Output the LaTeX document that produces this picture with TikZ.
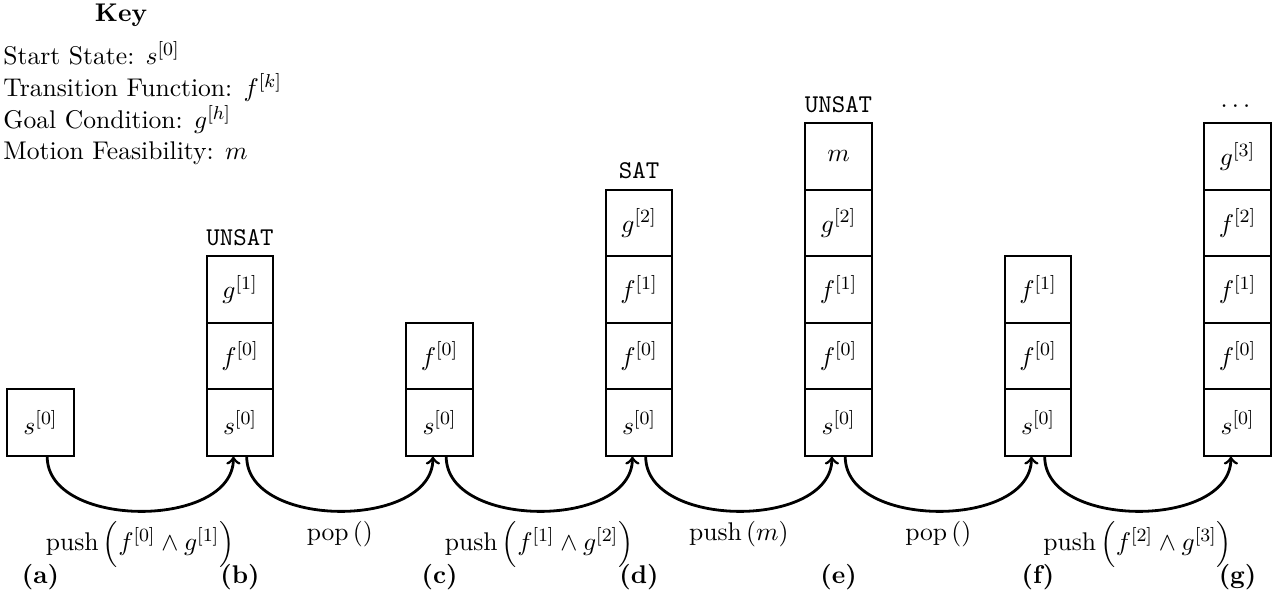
\documentclass[tikz,border=0pt,11pt]{standalone}
\usepackage{amsmath}
\begin{document}
\begin{tikzpicture}[
  cell/.style={draw, thick, minimum width=1cm, minimum height=1cm, inner sep=0pt, anchor=center},
  status/.style={anchor=base, inner sep=0pt, font=\ttfamily},
  keyline/.style={anchor=base west, inner sep=0pt},
  steplabel/.style={anchor=base, inner sep=0pt, font=\bfseries},
  arr/.style={->, very thick},
]
\useasboundingbox (0,0) rectangle (19.158,-9.038);

% Key
\node[anchor=base, inner sep=0pt, font=\bfseries] (keytitle) at (1.82,-0.326) {Key};
\node[keyline] (k1) at (0.045,-0.977) {Start State: $s^{[0]}$};
\node[keyline] (k2) at (0.045,-1.454) {Transition Function: $f^{[k]}$};
\node[keyline] (k3) at (0.045,-1.930) {Goal Condition: $g^{[h]}$};
\node[keyline] (k4) at (0.045,-2.406) {Motion Feasibility: $m$};

% (a)
\node[cell] (a0) at (0.61,-6.353) {$s^{[0]}$};
% (b)
\node[cell] (b0) at (3.61,-6.353) {$s^{[0]}$};
\node[cell] (b1) at (3.61,-5.353) {$f^{[0]}$};
\node[cell] (b2) at (3.61,-4.353) {$g^{[1]}$};
\node[status] (bs) at (3.61,-3.688) {UNSAT};
% (c)
\node[cell] (c0) at (6.61,-6.353) {$s^{[0]}$};
\node[cell] (c1) at (6.61,-5.353) {$f^{[0]}$};
% (d)
\node[cell] (d0) at (9.61,-6.353) {$s^{[0]}$};
\node[cell] (d1) at (9.61,-5.353) {$f^{[0]}$};
\node[cell] (d2) at (9.61,-4.353) {$f^{[1]}$};
\node[cell] (d3) at (9.61,-3.353) {$g^{[2]}$};
\node[status] (ds) at (9.61,-2.688) {SAT};
% (e)
\node[cell] (e0) at (12.61,-6.353) {$s^{[0]}$};
\node[cell] (e1) at (12.61,-5.353) {$f^{[0]}$};
\node[cell] (e2) at (12.61,-4.353) {$f^{[1]}$};
\node[cell] (e3) at (12.61,-3.353) {$g^{[2]}$};
\node[cell] (e4) at (12.61,-2.353) {$m$};
\node[status] (es) at (12.61,-1.688) {UNSAT};
% (f)
\node[cell] (f0) at (15.61,-6.353) {$s^{[0]}$};
\node[cell] (f1) at (15.61,-5.353) {$f^{[0]}$};
\node[cell] (f2) at (15.61,-4.353) {$f^{[1]}$};
% (g)
\node[cell] (g0) at (18.61,-6.353) {$s^{[0]}$};
\node[cell] (g1) at (18.61,-5.353) {$f^{[0]}$};
\node[cell] (g2) at (18.61,-4.353) {$f^{[1]}$};
\node[cell] (g3) at (18.61,-3.353) {$f^{[2]}$};
\node[cell] (g4) at (18.61,-2.353) {$g^{[3]}$};
\node[status] (gs) at (18.61,-1.688) {$\cdots$};

% transitions
\draw[arr] ([xshift=0.1cm]a0.south) to[out=-90,in=-90]
  node[below] {$\mathrm{push}\,\Big(f^{[0]} \wedge g^{[1]}\Big)$} ([xshift=-0.1cm]b0.south);
\draw[arr] ([xshift=0.1cm]b0.south) to[out=-90,in=-90]
  node[below] {$\mathrm{pop}\left(\right)$} ([xshift=-0.1cm]c0.south);
\draw[arr] ([xshift=0.1cm]c0.south) to[out=-90,in=-90]
  node[below] {$\mathrm{push}\,\Big(f^{[1]} \wedge g^{[2]}\Big)$} ([xshift=-0.1cm]d0.south);
\draw[arr] ([xshift=0.1cm]d0.south) to[out=-90,in=-90]
  node[below] {$\mathrm{push}\left(m\right)$} ([xshift=-0.1cm]e0.south);
\draw[arr] ([xshift=0.1cm]e0.south) to[out=-90,in=-90]
  node[below] {$\mathrm{pop}\left(\right)$} ([xshift=-0.1cm]f0.south);
\draw[arr] ([xshift=0.1cm]f0.south) to[out=-90,in=-90]
  node[below] {$\mathrm{push}\,\Big(f^{[2]} \wedge g^{[3]}\Big)$} ([xshift=-0.1cm]g0.south);

% step labels
\node[steplabel] (la) at (0.61,-8.78) {(a)};
\node[steplabel] (lb) at (3.61,-8.78) {(b)};
\node[steplabel] (lc) at (6.61,-8.78) {(c)};
\node[steplabel] (ld) at (9.61,-8.78) {(d)};
\node[steplabel] (le) at (12.61,-8.78) {(e)};
\node[steplabel] (lf) at (15.61,-8.78) {(f)};
\node[steplabel] (lg) at (18.61,-8.78) {(g)};
\end{tikzpicture}
\end{document}
